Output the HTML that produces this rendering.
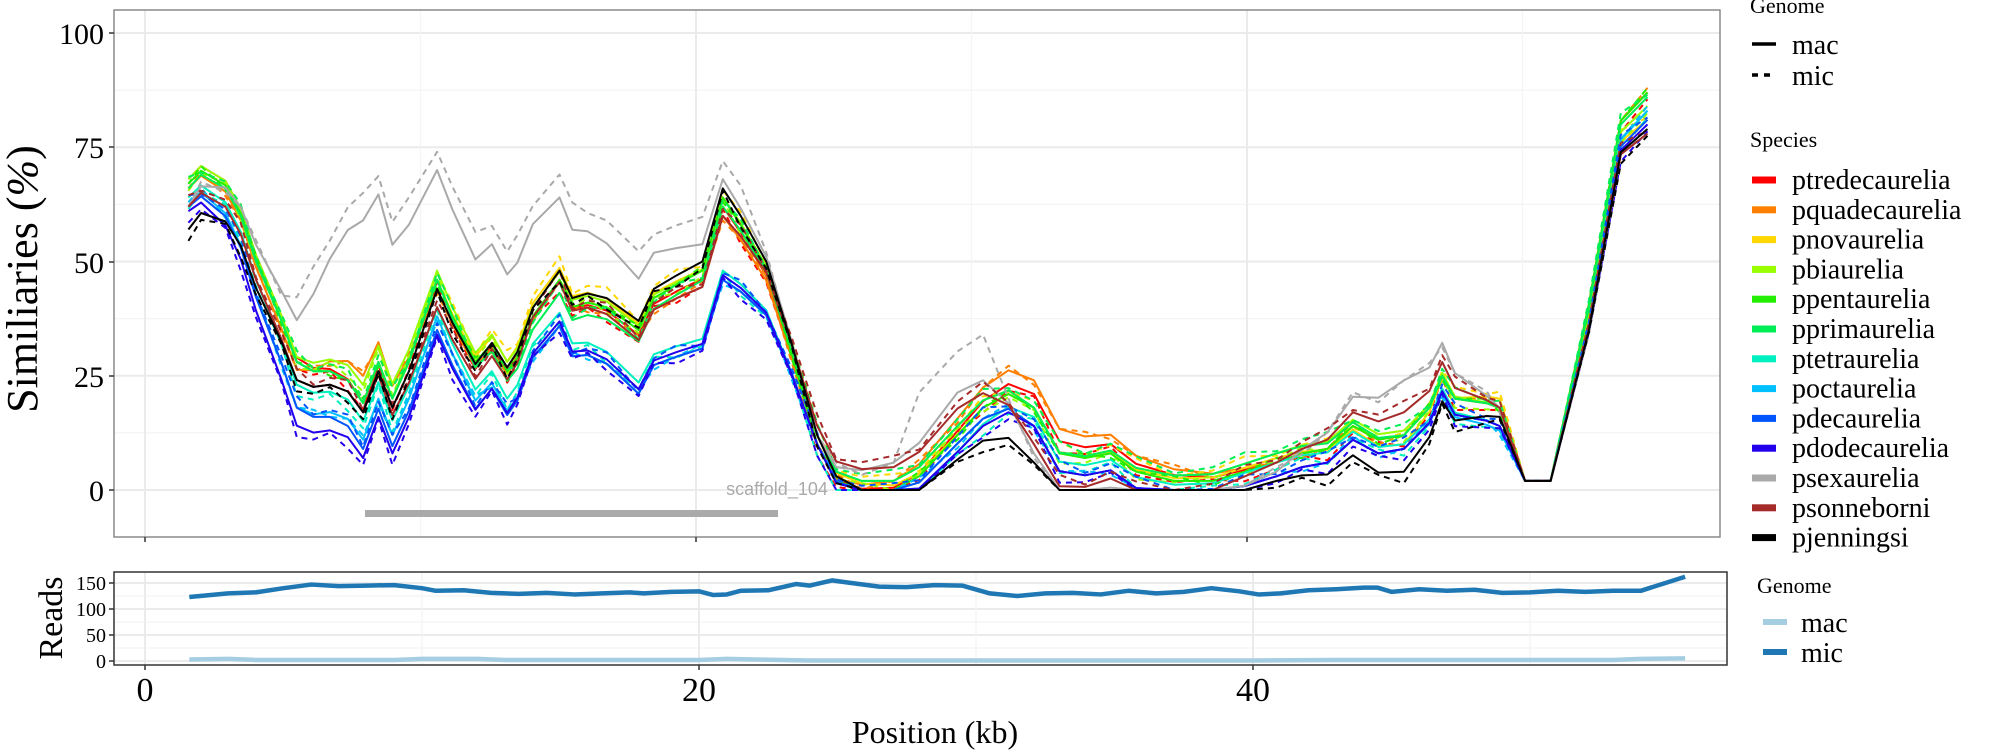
<!DOCTYPE html>
<html><head><meta charset="utf-8">
<style>
html,body{margin:0;padding:0;background:#fff;}
svg{display:block;font-family:"Liberation Serif",serif;}
</style></head>
<body>
<svg id="s" width="2000" height="750" viewBox="0 0 2000 750" xmlns="http://www.w3.org/2000/svg">
<rect width="2000" height="750" fill="#fff"/>
<g id="grid"></g>
<g id="lines"></g>
<rect x="114" y="10" width="1606" height="527" fill="none" stroke="#8a8a8a" stroke-width="1.5"/>
<rect x="365" y="510" width="413" height="7" fill="#aaaaaa"/>
<text x="777" y="495" font-family="Liberation Sans, sans-serif" font-size="18" fill="#aaaaaa" text-anchor="middle">scaffold_104</text>
<g font-size="30" text-anchor="end" fill="#000">
<text x="104" y="44">100</text>
<text x="104" y="158">75</text>
<text x="104" y="273">50</text>
<text x="104" y="387">25</text>
<text x="104" y="501">0</text>
</g>
<g stroke="#333" stroke-width="1.5">
<line x1="109" y1="33" x2="114" y2="33"/><line x1="109" y1="147" x2="114" y2="147"/>
<line x1="109" y1="262" x2="114" y2="262"/><line x1="109" y1="376" x2="114" y2="376"/>
<line x1="109" y1="490" x2="114" y2="490"/>
<line x1="145" y1="537" x2="145" y2="542"/><line x1="696" y1="537" x2="696" y2="542"/><line x1="1247" y1="537" x2="1247" y2="542"/>
</g>
<text transform="translate(37,279) rotate(-90)" font-size="44" text-anchor="middle">Similiaries (<tspan font-style="italic">%</tspan>)</text>

<g id="rgrid"></g>
<g id="rlines"></g>
<rect x="114" y="572" width="1613" height="93" fill="none" stroke="#333" stroke-width="1.5"/>
<g font-size="20" text-anchor="end">
<text x="106" y="590">150</text>
<text x="106" y="616">100</text>
<text x="106" y="642">50</text>
<text x="106" y="668">0</text>
</g>
<g stroke="#333" stroke-width="1.5">
<line x1="109" y1="583" x2="114" y2="583"/><line x1="109" y1="609" x2="114" y2="609"/>
<line x1="109" y1="635" x2="114" y2="635"/><line x1="109" y1="661" x2="114" y2="661"/>
<line x1="145" y1="665" x2="145" y2="670"/><line x1="699" y1="665" x2="699" y2="670"/><line x1="1253" y1="665" x2="1253" y2="670"/>
</g>
<text transform="translate(62,618) rotate(-90)" font-size="34" text-anchor="middle">Reads</text>
<g font-size="34" text-anchor="middle">
<text x="145" y="701">0</text>
<text x="699" y="701">20</text>
<text x="1253" y="701">40</text>
</g>
<text x="935" y="743" font-size="32" text-anchor="middle">Position (kb)</text>

<g font-size="22">
<text x="1750" y="13">Genome</text>
<text x="1750" y="147">Species</text>
<text x="1757" y="593">Genome</text>
</g>
<g stroke="#000" stroke-width="3.5">
<line x1="1752" y1="44" x2="1776" y2="44"/>
<line x1="1752" y1="75" x2="1776" y2="75" stroke-dasharray="6,6"/>
</g>
<g font-size="28">
<text x="1792" y="54">mac</text>
<text x="1792" y="85">mic</text>
</g>
<g id="leg"></g>
<rect x="1763" y="619" width="24" height="6" fill="#a6cee3"/>
<rect x="1763" y="649" width="24" height="6" fill="#1f78b4"/>
<g font-size="28">
<text x="1801" y="632">mac</text>
<text x="1801" y="662">mic</text>
</g>
</svg>
<script>
var NS="http://www.w3.org/2000/svg";
function el(t,a,p){var e=document.createElementNS(NS,t);for(var k in a)e.setAttribute(k,a[k]);p.appendChild(e);return e;}
var grid=document.getElementById('grid');
for(var v=-0;v<=100;v+=12.5){var y=490-v*4.57;el('line',{x1:114,x2:1720,y1:y,y2:y,stroke:(v%25==0)?'#ebebeb':'#f4f4f4','stroke-width':(v%25==0)?2:1.2},grid);}
for(var k=0;k<=55;k+=10){var x=145+k*27.55;el('line',{x1:x,x2:x,y1:10,y2:537,stroke:(k%20==0)?'#ebebeb':'#f4f4f4','stroke-width':(k%20==0)?2:1.2},grid);}
var rg=document.getElementById('rgrid');
for(var v=0;v<=175;v+=25){var y=661-v*0.52;if(y<573)continue;el('line',{x1:114,x2:1727,y1:y,y2:y,stroke:(v%50==0)?'#ebebeb':'#f4f4f4','stroke-width':(v%50==0)?2:1.2},rg);}
for(var k=0;k<=55;k+=10){var x=145+k*27.7;el('line',{x1:x,x2:x,y1:572,y2:665,stroke:(k%20==0)?'#ebebeb':'#f4f4f4','stroke-width':(k%20==0)?2:1.2},rg);}
var base=[[147,66],[157,69],[176,66],[188,60],[200,50],[220,37],[232,28],[245,26],[258,26],[272,24],[284,19],[296,28],[307,20],[320,28],[342,46],[354,38],[372,28],[385,32],[397,26],[405,29],[417,38],[438,46],[448,40],[460,41],[475,40],[500,35],[512,42],[530,45],[550,48],[566,64],[580,58],[600,48],[620,30],[640,10],[655,2],[675,0],[700,0],[720,3],[750,12],[770,18],[790,21],[810,18],[830,8],[850,7],[870,8],[890,4],[920,2],[950,2],[975,4],[1000,6],[1020,8],[1040,9],[1060,14],[1080,11],[1100,12],[1120,18],[1130,25],[1140,20],[1165,19],[1175,18],[1195,2],[1215,2],[1245,40],[1270,80],[1291,86]];
var cx=[147,230,284,342,420,566,640,760,810,1000,1100,1175,1291];
var sp=[
["ptredecaurelia","#ff0000",[2,1,0,0,0,-2,0,1,3,0,0,0,1]],
["pquadecaurelia","#ff7f00",[0,-2,6,-2,0,-4,0,4,6,0,0,0,1]],
["pnovaurelia","#ffd700",[0,0,0,0,3,0,2,0,0,1,-2,2,-5]],
["pbiaurelia","#99ff00",[2,1,4,2,2,0,2,2,0,2,1,0,-2]],
["ppentaurelia","#22ee00",[1,0,0,0,0,0,0,0,0,0,0,0,1]],
["pprimaurelia","#00ee55",[0,0,0,0,-3,-2,2,2,0,2,0,0,0]],
["ptetraurelia","#00f0c0",[-2,-5,-4,-6,-6,-16,0,-4,-2,0,-2,-4,-3]],
["poctaurelia","#00bfff",[-3,-10,-8,-8,-9,-18,0,-2,-4,-3,-3,-5,-3]],
["pdecaurelia","#0055ff",[-4,-10,-10,-11,-9,-18,0,-2,-4,-3,-3,-4,-5]],
["pdodecaurelia","#2200ee",[-5,-14,-12,-12,-8,-17,0,-4,-4,-3,-3,-4,-6]],
["psexaurelia","#a9a9a9",[-4,8,40,24,20,4,2,10,-10,-2,12,0,-8]],
["psonneborni","#a52a2a",[-4,-4,-2,-6,0,-4,4,6,-8,0,5,0,-8]],
["pjenningsi","#000000",[-9,-4,-2,-2,2,2,2,-6,-12,-4,-8,-2,-7]]];
function interp(d,x){for(var i=0;i<cx.length-1;i++){if(x<=cx[i+1]){var t=(x-cx[i])/(cx[i+1]-cx[i]);return d[i]+(d[i+1]-d[i])*t;}}return d[d.length-1];}
function X(xd){return 145+(xd-113)*1.2755;}
function Y(p){return 490-p*4.57;}
var lines=document.getElementById('lines');
sp.forEach(function(s,si){
  [0,1].forEach(function(m){
    var pts=base.map(function(b,i){
      var d=interp(s[2],b[0]);
      var j=m?((si%3)-1)*1.5+((i*7+si)%3-1):0;
      if(m&&s[0]=="psexaurelia")j+=(b[0]>220&&b[0]<600)?5:(b[0]>700&&b[0]<780?10:0);
      var p=b[1]+d+j; if(b[0]>1190&&b[0]<1220)p=b[1]; if(p<0)p=0; if(p>95)p=95;
      return X(b[0]).toFixed(1)+","+Y(p).toFixed(1);}).join(" ");
    var a={points:pts,fill:"none",stroke:s[1],"stroke-width":2,"stroke-linejoin":"round"};
    if(m)a["stroke-dasharray"]="6,5";
    el('polyline',a,lines);
  });
  var ly=180+si*29.8;
  el('rect',{x:1752,y:ly-3.5,width:24,height:7,fill:s[1]},document.getElementById('leg'));
  var t=el('text',{x:1792,y:ly+9,"font-size":28},document.getElementById('leg'));t.textContent=s[0];
});
var mic=[[1.6,123],[3,130],[4,132],[5,140],[6,147],[7,144],[8,145],[9,146],[10,140],[10.5,135],[11.5,136],[12.5,131],[13.5,129],[14.5,131],[15.5,128],[16.5,130],[17.5,132],[18,130],[19,133],[20,134],[20.5,127],[21,128],[21.5,135],[22.5,136],[23.5,148],[24,145],[24.8,155],[25.5,150],[26.5,143],[27.5,142],[28.5,146],[29.5,145],[30.5,130],[31.5,125],[32.5,130],[33.5,131],[34.5,128],[35.5,135],[36.5,130],[37.5,133],[38.5,140],[39.5,134],[40.2,128],[41,130],[42,136],[43,138],[44,141],[44.5,141],[45,133],[46,138],[47,135],[48,137],[49,131],[50,132],[51,135],[52,133],[53,135],[54,135],[55.6,162]];
var rl=document.getElementById('rlines');
function RX(k){return 145+k*27.7;} function RY(v){return 661-v*0.52;}
var macp=[[1.6,3],[3,4],[4,2],[9,2],[10,4],[12,4],[13,2],[20,2],[21,4],[22,3],[24,1],[40,1],[43,2],[53,2],[54,4],[55.6,5]];
el('polyline',{points:macp.map(function(p){return RX(p[0])+","+RY(p[1]);}).join(" "),fill:"none",stroke:"#a6cee3","stroke-width":4.5},rl);
el('polyline',{points:mic.map(function(p){return RX(p[0])+","+RY(p[1]);}).join(" "),fill:"none",stroke:"#1f78b4","stroke-width":4.5,"stroke-linejoin":"round"},rl);
</script>
</body></html>
